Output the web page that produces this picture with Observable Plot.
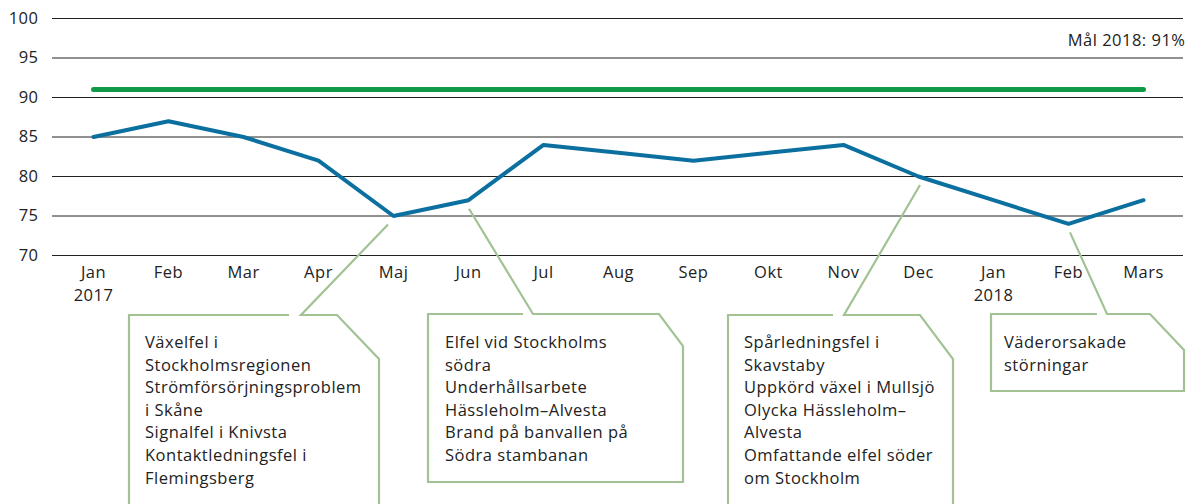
<!DOCTYPE html>
<html>
<head>
<meta charset="utf-8">
<script src="https://cdn.jsdelivr.net/npm/d3@7"></script>
<script src="https://cdn.jsdelivr.net/npm/@observablehq/plot@0.6"></script>
<style>
  html, body { margin: 0; padding: 0; background: #fff; }
  #chart { width: 1189px; height: 504px; overflow: hidden; }
  svg { font-family: "Open Sans", sans-serif; letter-spacing: 0.5px; }
</style>
</head>
<body>
<div id="chart"></div>
<script>
// ---- data ----
const months = ["Jan","Feb","Mar","Apr","Maj","Jun","Jul","Aug","Sep","Okt","Nov","Dec","Jan","Feb","Mars"];
const years  = ["2017","","","","","","","","","","","","2018","",""];
const punctuality = [85, 87, 85, 82, 75, 77, 84, 83, 82, 83, 84, 80, 77, 74, 77];
const goal = 91;
const goalLabel = "Mål 2018: 91%";
const yTicks = [70, 75, 80, 85, 90, 95, 100];

const calloutIndex = [4, 5, 11, 13];
const calloutTexts = [
  ["Växelfel i", "Stockholmsregionen", "Strömförsörjningsproblem", "i Skåne", "Signalfel i Knivsta", "Kontaktledningsfel i", "Flemingsberg"],
  ["Elfel vid Stockholms", "södra", "Underhållsarbete", "Hässleholm–Alvesta", "Brand på banvallen på", "Södra stambanan"],
  ["Spårledningsfel i", "Skavstaby", "Uppkörd växel i Mullsjö", "Olycka Hässleholm–", "Alvesta", "Omfattande elfel söder", "om Stockholm"],
  ["Väderorsakade", "störningar"]
];

// layout of callout boxes (pixels)
const boxes = [
  {left: 129, top: 315, right: 379, bottom: 530, gapL: 289, gapR: 301, chX: 42, chY: 44, tipDx: -5, pad: 16},
  {left: 428, top: 314, right: 683, bottom: 482, gapL: 523, gapR: 533, chX: 24, chY: 32, tipDx: 1, pad: 17},
  {left: 728, top: 315, right: 953, bottom: 530, gapL: 833, gapR: 844, chX: 33, chY: 44, tipDx: 2, pad: 16},
  {left: 991, top: 314, right: 1184, bottom: 391, gapL: 1097, gapR: 1107, chX: 34, chY: 36, tipDx: 2, pad: 13}
];

const rows = months.map((m, i) => ({i, month: m, value: punctuality[i]}));
const FS = 16.5;

const plot = Plot.plot({
  width: 1189,
  height: 504,
  marginLeft: 52,
  marginRight: 6,
  marginTop: 18,
  marginBottom: 249,
  style: {fontFamily: "'Open Sans', sans-serif", fontSize: FS + "px", color: "#222", background: "#fff"},
  x: {type: "point", domain: d3.range(months.length), padding: 0.5},
  y: {domain: [70, 100]},
  marks: [
    Plot.ruleY(yTicks, {stroke: "#222", strokeWidth: 1}),
    Plot.lineY(rows, {x: "i", y: () => goal, stroke: "#109a48", strokeWidth: 5}),
    Plot.lineY(rows, {x: "i", y: "value", stroke: "#0b70a0", strokeWidth: 4, strokeLinejoin: "miter"}),
    Plot.text([goalLabel], {frameAnchor: "top-right", dx: 2, dy: 16, fontSize: FS, fill: "#222"}),
    Plot.axisY({ticks: yTicks, tickSize: 0, tickPadding: 14, fontSize: FS, fill: "#222", label: null}),
    Plot.axisX({tickSize: 0, tickPadding: 5, fontSize: FS, fill: "#222", lineHeight: 1.45, label: null,
      tickFormat: i => years[i] ? months[i] + "\n" + years[i] : months[i]})
  ]
});

document.getElementById("chart").appendChild(plot);

// callouts anchored to data points through the plot scales
const xs = plot.scale("x"), ys = plot.scale("y");
const svg = d3.select(plot);
const g = svg.append("g").attr("text-anchor", "start");
calloutIndex.forEach((idx, k) => {
  const b = boxes[k];
  const tx = xs.apply(idx) + b.tipDx;
  const ty = ys.apply(punctuality[idx]) + 9;
  const path = d3.path();
  path.moveTo(b.gapL, b.top);
  path.lineTo(b.left, b.top);
  path.lineTo(b.left, b.bottom);
  path.lineTo(b.right, b.bottom);
  path.lineTo(b.right, b.top + b.chY);
  path.lineTo(b.right - b.chX, b.top);
  path.lineTo(b.gapR, b.top);
  path.lineTo(tx, ty);
  g.append("path").attr("d", path.toString())
    .attr("fill", "none").attr("stroke", "#a2c294").attr("stroke-width", 2.2)
    .attr("stroke-linejoin", "miter");
  const t = g.append("text").attr("font-size", FS).attr("fill", "#222").attr("text-anchor", "start");
  calloutTexts[k].forEach((line, j) => {
    t.append("tspan").attr("x", b.left + b.pad).attr("y", 348 + j * 22.6).text(line);
  });
});
</script>
</body>
</html>
